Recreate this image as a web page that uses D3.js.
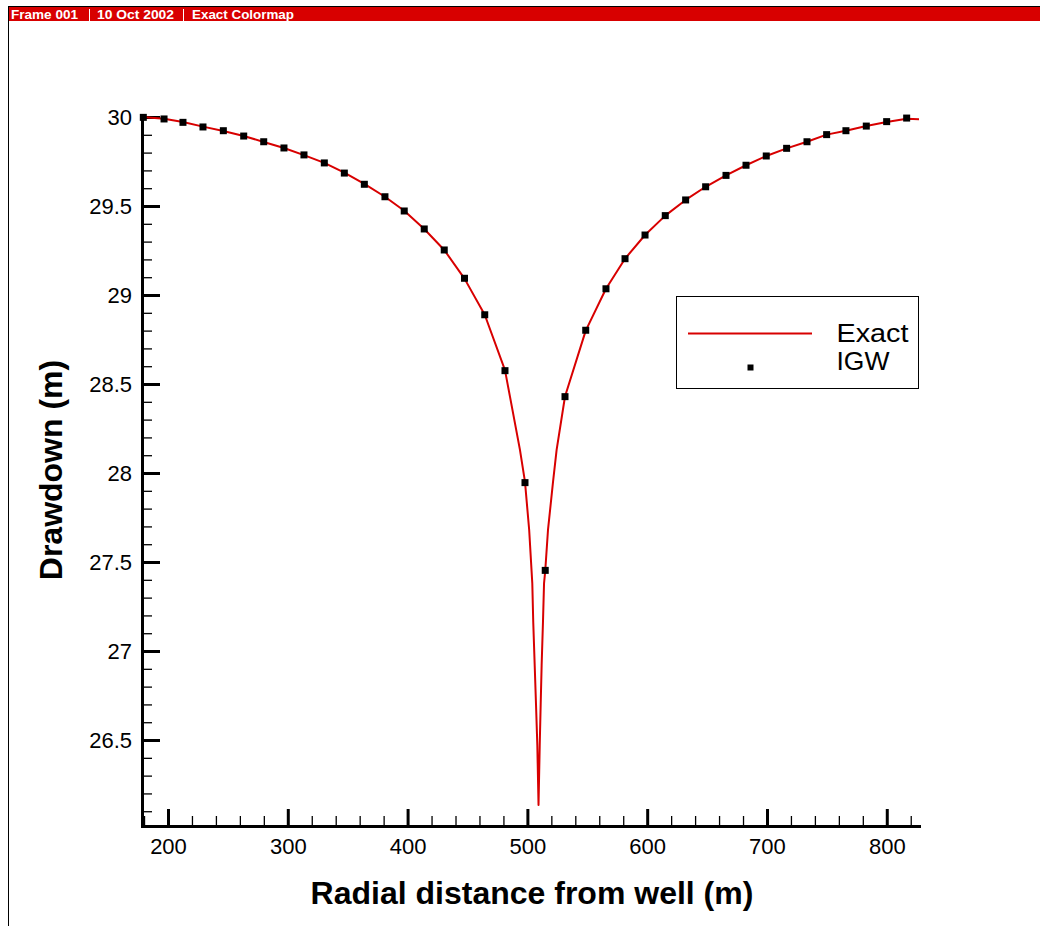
<!DOCTYPE html>
<html>
<head>
<meta charset="utf-8">
<script src="https://cdn.jsdelivr.net/npm/d3@7"></script>
<style>
  body { margin: 0; background: #fff; }
  svg { display: block; font-family: Arial, "Liberation Sans", sans-serif; }
</style>
</head>
<body>
<svg width="1040" height="926"></svg>
<script>
// IGW markers (radial distance, drawdown)
const igwR = [179.4, 196.7, 212.5, 229.2, 246.2, 263.2, 279.9, 296.8, 313.5, 330.5,
              347.2, 363.9, 381.1, 397.2, 413.9, 430.6, 447.5, 464.4, 481.3, 498.0,
              514.9, 531.4, 548.7, 565.6, 581.5, 598.2, 615.1, 632.1, 648.8, 665.8,
              682.5, 699.4, 716.4, 733.4, 749.8, 765.9, 782.9, 799.9, 816.6];
const igwS = [29.998, 29.989, 29.970, 29.944, 29.923, 29.893, 29.861, 29.826, 29.787, 29.742,
              29.685, 29.622, 29.552, 29.472, 29.371, 29.253, 29.094, 28.889, 28.575, 27.946,
              27.453, 28.429, 28.802, 29.035, 29.204, 29.337, 29.446, 29.534, 29.608, 29.672,
              29.729, 29.781, 29.824, 29.861, 29.901, 29.923, 29.949, 29.974, 29.994];

// exact solution curve
const exactR = [178.5, 196.7, 212.5, 229.2, 246.2, 263.2, 279.9, 296.8, 313.5, 330.5,
                347.2, 363.9, 381.1, 397.2, 413.9, 430.6, 447.5, 464.4, 481.3, 493.8,
                498.0, 501.5, 504.1, 504.9, 506.1, 507.2, 508.3, 509.3, 510.3, 511.1,
                511.9, 513.0, 513.9, 514.9, 517.2, 521.4, 524.4, 531.4, 548.7, 565.6,
                581.5, 598.2, 615.1, 632.1, 648.8, 665.8, 682.5, 699.4, 716.4, 733.4,
                749.8, 765.9, 782.9, 799.9, 816.6, 826.9];
const exactS = [30.000, 29.990, 29.972, 29.946, 29.921, 29.893, 29.860, 29.826, 29.786, 29.742,
                29.687, 29.624, 29.552, 29.473, 29.371, 29.253, 29.092, 28.889, 28.578, 28.130,
                27.950, 27.680, 27.380, 27.160, 26.920, 26.700, 26.470, 26.135, 26.470, 26.700,
                26.920, 27.160, 27.380, 27.450, 27.680, 27.950, 28.130, 28.430, 28.800, 29.035,
                29.204, 29.337, 29.446, 29.534, 29.608, 29.672, 29.729, 29.781, 29.824, 29.861,
                29.901, 29.923, 29.949, 29.972, 29.990, 29.987];

const xTicks = [200, 300, 400, 500, 600, 700, 800];
const yTicks = [26.5, 27, 27.5, 28, 28.5, 29, 29.5, 30];
const seriesNames = ["Exact", "IGW"];
const headerItems = ["Frame 001", "10 Oct 2002", "Exact Colormap"];

const svg = d3.select('svg');
const red = '#d80000';

// frame + title bar
svg.append('rect')
    .attr('x', 8.5).attr('y', 6.5)
    .attr('width', 1050).attr('height', 940)
    .attr('fill', 'none').attr('stroke', '#000').attr('stroke-width', 1);
svg.append('rect')
    .attr('x', 9).attr('y', 7)
    .attr('width', 1031).attr('height', 14)
    .attr('fill', red);

var hdrX = [11, 97, 192], hdrW = [67, 77, 102], sepX = [89.5, 183.5];
headerItems.forEach(function (t, i) {
    svg.append('text')
        .attr('x', hdrX[i]).attr('y', 19)
        .attr('textLength', hdrW[i])
        .attr('lengthAdjust', 'spacingAndGlyphs')
        .style('font-size', '12px')
        .style('font-weight', 'bold')
        .attr('fill', '#fff')
        .text(t);
});
sepX.forEach(function (sx) {
    svg.append('line')
        .attr('x1', sx).attr('x2', sx)
        .attr('y1', 9).attr('y2', 21)
        .attr('stroke', '#fff').attr('stroke-width', 1);
});

//-----------------------------------------SCALES-----------------------------------------//

var xScale = d3.scaleLinear()
    .domain([178.3, 826.9])
    .range([142, 919]);

var yScale = d3.scaleLinear()
    .domain([26.017, 30])
    .range([826, 117]);

//-----------------------------------------X - AXIS-----------------------------------------//

var xMinor = d3.range(180, 821, 20).filter(d => d % 100 !== 0);
svg.append('g')
    .attr('transform', 'translate(0,826)')
    .call(d3.axisBottom(xScale).tickValues(xMinor).tickSize(-10).tickFormat(''))
    .call(g => g.select('.domain').remove())
    .selectAll('line').attr('stroke-width', 1.3);

var xAxis = svg.append('g')
    .attr('transform', 'translate(0,826)')
    .call(d3.axisBottom(xScale).tickValues(xTicks).tickSize(-17).tickSizeOuter(0).tickPadding(12));
xAxis.select('.domain').attr('stroke-width', 3).attr('stroke-linecap', 'square');
xAxis.selectAll('.tick line').attr('stroke-width', 3);
xAxis.selectAll('text').style('font-size', '22px').attr('fill', '#000');

svg.append('text')
    .attr('text-anchor', 'middle')
    .attr('x', 532)
    .attr('y', 904)
    .style('font-size', '32px')
    .style('font-weight', 'bold')
    .text('Radial distance from well (m)');

//-----------------------------------------Y - AXIS-----------------------------------------//

var yMinor = d3.range(261, 300).filter(d => d % 5 !== 0).map(d => d / 10);
svg.append('g')
    .attr('transform', 'translate(142,0)')
    .call(d3.axisLeft(yScale).tickValues(yMinor).tickSize(-10).tickFormat(''))
    .call(g => g.select('.domain').remove())
    .selectAll('line').attr('stroke-width', 1.3);

var yAxis = svg.append('g')
    .attr('transform', 'translate(142,0)')
    .call(d3.axisLeft(yScale).tickValues(yTicks).tickSize(-18).tickSizeOuter(0).tickPadding(10)
        .tickFormat(d3.format('')));
yAxis.select('.domain').attr('stroke-width', 3).attr('stroke-linecap', 'square');
yAxis.selectAll('.tick line').attr('stroke-width', 3);
yAxis.selectAll('text').style('font-size', '22px').attr('fill', '#000');

svg.append('text')
    .attr('text-anchor', 'middle')
    .attr('transform', 'translate(62,470) rotate(-90)')
    .style('font-size', '32px')
    .style('font-weight', 'bold')
    .text('Drawdown (m)');

//-----------------------------------------SERIES-----------------------------------------//

var exact = exactR.map((r, i) => ({r: r, s: exactS[i]}));
var igw = igwR.map((r, i) => ({r: r, s: igwS[i]}));

svg.append('path')
    .datum(exact)
    .attr('fill', 'none')
    .attr('stroke', red)
    .attr('stroke-width', 2)
    .attr('stroke-linejoin', 'round')
    .attr('d', d3.line().x(d => xScale(d.r)).y(d => yScale(d.s)));

svg.selectAll('rect.igw')
    .data(igw)
    .enter()
    .append('rect')
    .attr('class', 'igw')
    .attr('x', d => xScale(d.r) - 3.5)
    .attr('y', d => yScale(d.s) - 3.5)
    .attr('width', 7)
    .attr('height', 7)
    .attr('fill', '#000');

//-----------------------------------------LEGEND-----------------------------------------//

var legend = svg.append('g').attr('transform', 'translate(676.5,296.5)');
legend.append('rect')
    .attr('width', 242).attr('height', 92)
    .attr('fill', '#fff').attr('stroke', '#000').attr('stroke-width', 1);
legend.append('line')
    .attr('x1', 11.5).attr('x2', 135.5)
    .attr('y1', 37).attr('y2', 37)
    .attr('stroke', red).attr('stroke-width', 2);
legend.append('rect')
    .attr('x', 71).attr('y', 68)
    .attr('width', 6).attr('height', 6)
    .attr('fill', '#000');
seriesNames.forEach(function (n, i) {
    legend.append('text')
        .attr('x', 160)
        .attr('y', 45 + i * 28)
        .attr('textLength', i === 0 ? 72 : 53)
        .attr('lengthAdjust', 'spacingAndGlyphs')
        .style('font-size', '25px')
        .text(n);
});
</script>
</body>
</html>
